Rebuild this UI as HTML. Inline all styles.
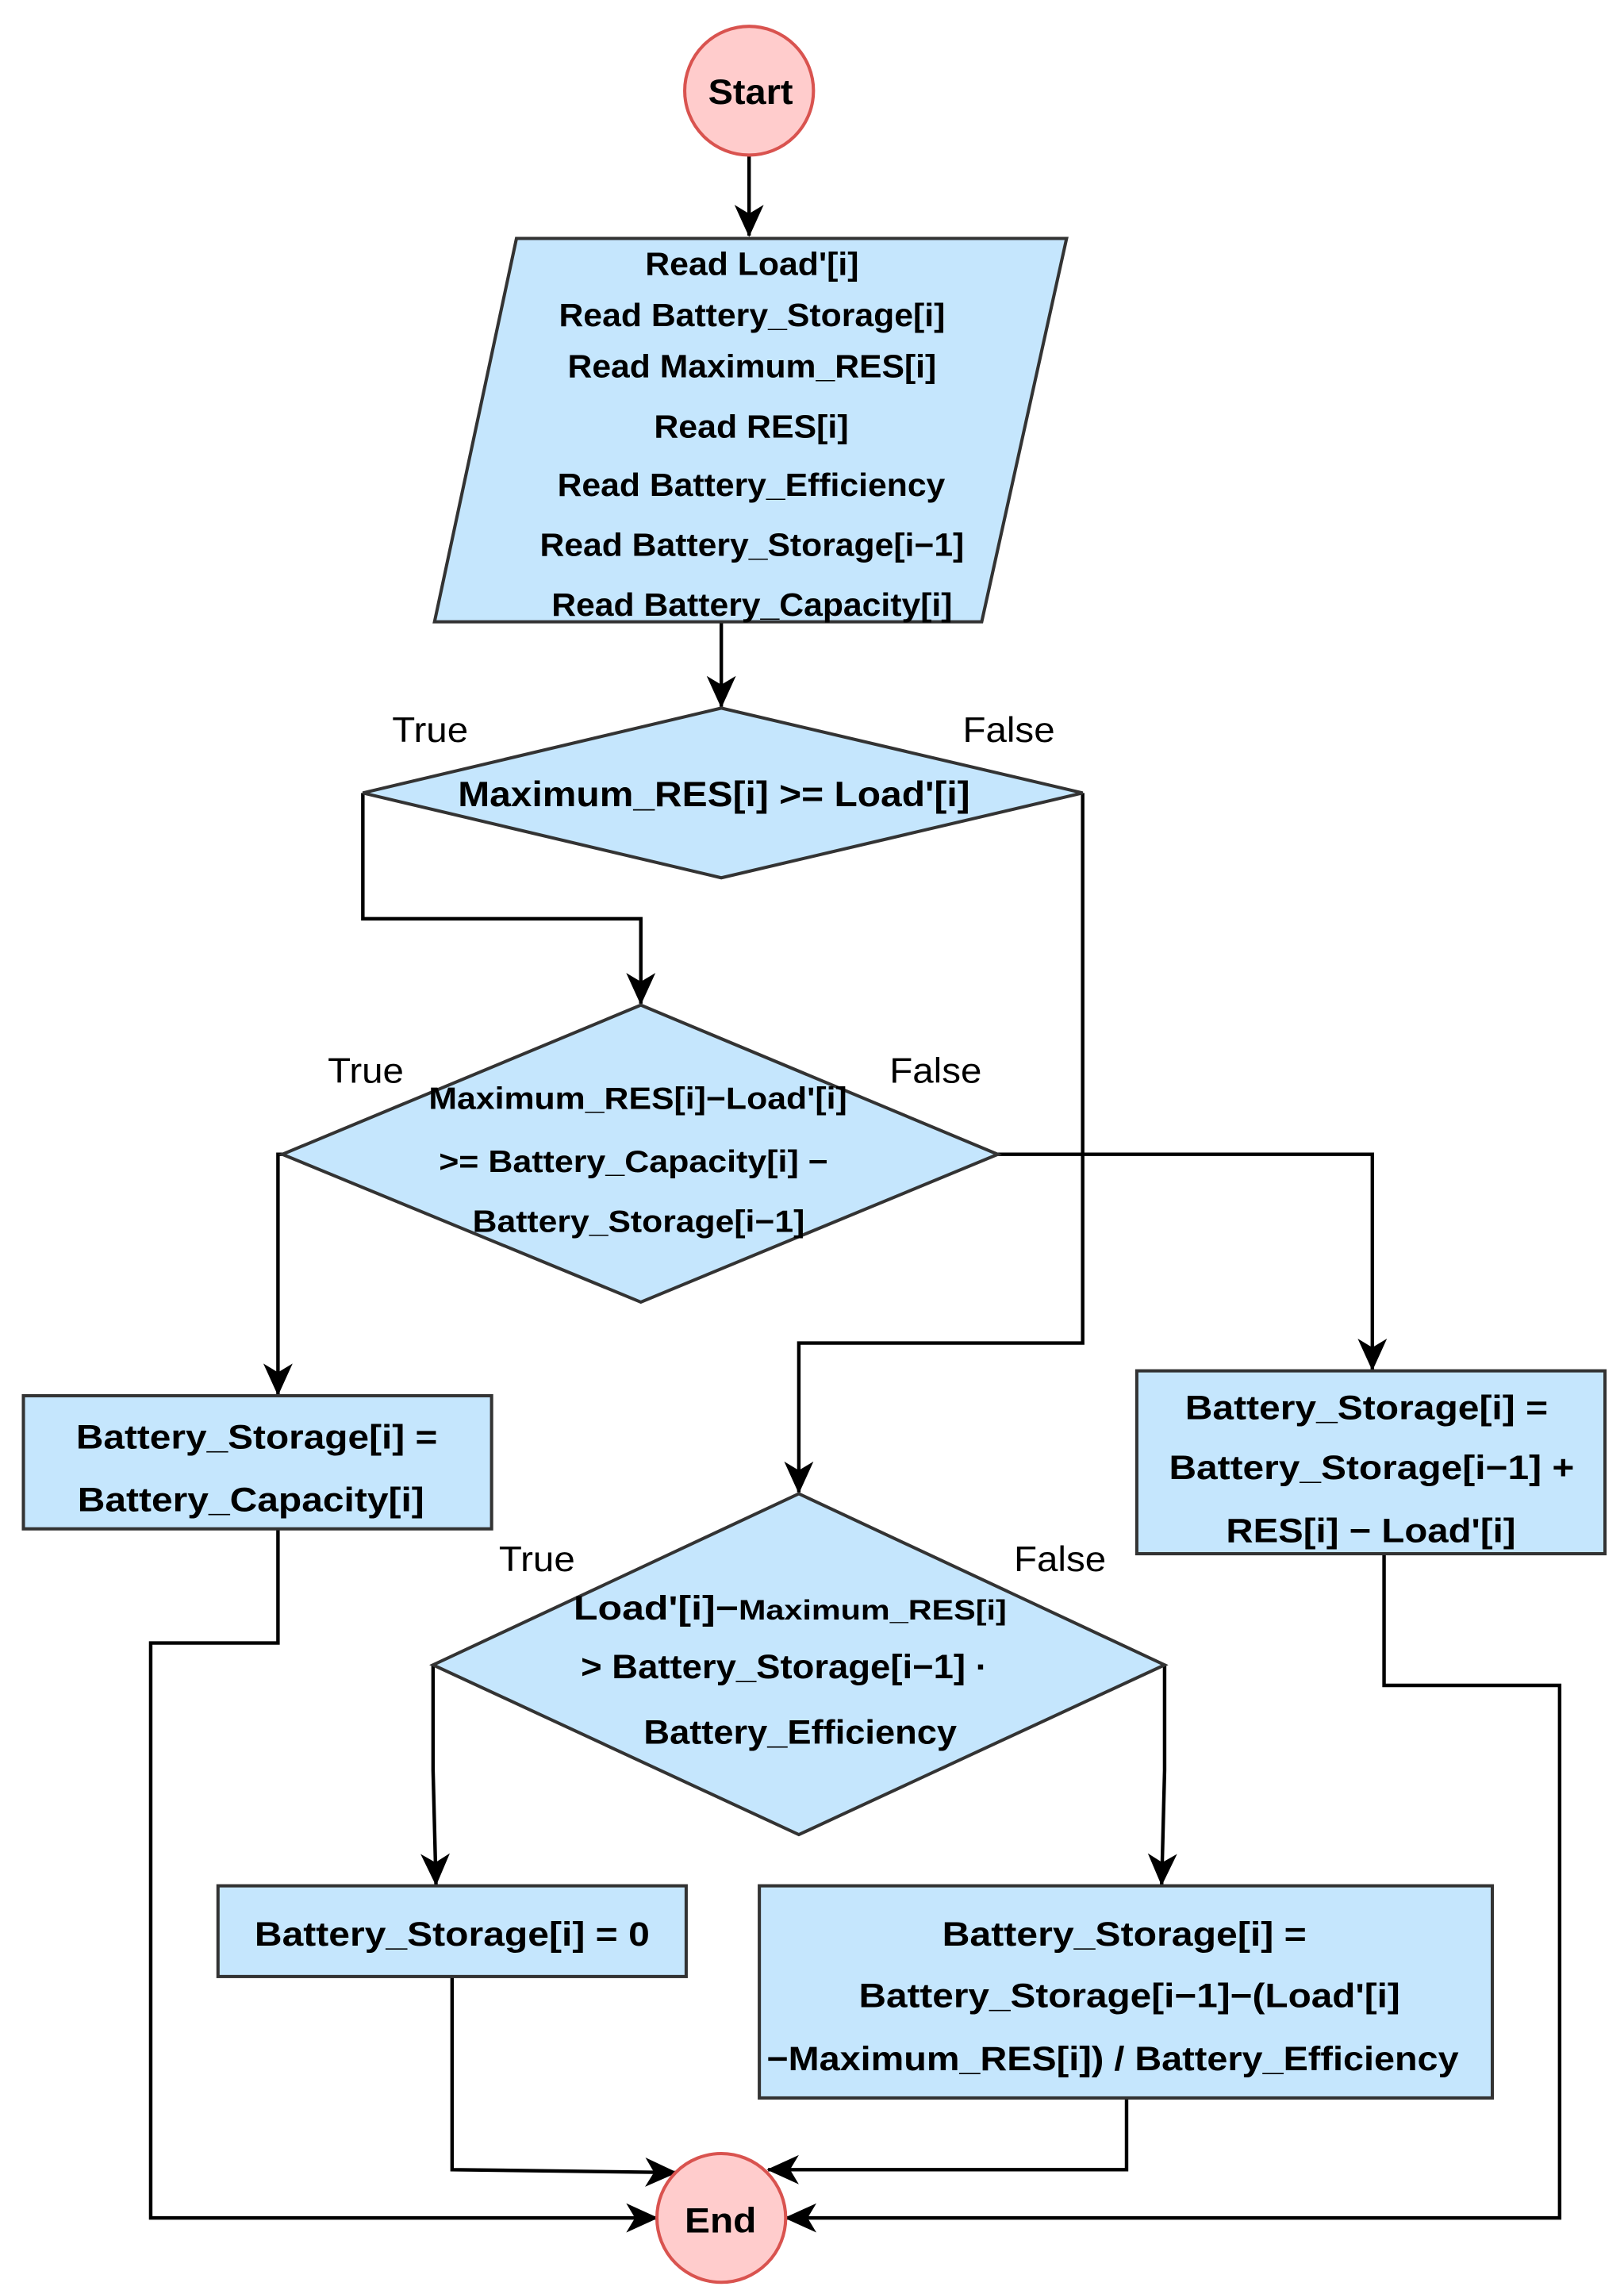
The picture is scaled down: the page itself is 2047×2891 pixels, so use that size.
<!DOCTYPE html>
<html><head><meta charset="utf-8"><style>
html,body{margin:0;padding:0;background:#fff;}
svg{display:block;}
text{font-family:"Liberation Sans",Arial,sans-serif;fill:#000;}
.b{font-weight:bold;}
</style></head><body>
<svg width="2047" height="2891" viewBox="0 0 1110 1568" preserveAspectRatio="none" xmlns="http://www.w3.org/2000/svg">
<defs>
<marker id="a" markerWidth="22" markerHeight="22" refX="21" refY="11" orient="auto" markerUnits="userSpaceOnUse" viewBox="0 0 22 22">
<path d="M0,1 L22,11 L0,21 L6,11 Z" fill="#000"/>
</marker>
</defs>
<g stroke="#000" stroke-width="2.4" fill="none">
<path d="M512,106 V161" marker-end="url(#a)"/>
<path d="M493,425 V483" marker-end="url(#a)"/>
<path d="M248,542 V628 H438 V686" marker-end="url(#a)"/>
<path d="M193,789 H190 V953" marker-end="url(#a)"/>
<path d="M682,789 H938 V936" marker-end="url(#a)"/>
<path d="M740,542 V918 H546 V1020" marker-end="url(#a)"/>
<path d="M296,1138 V1210 L298,1288" marker-end="url(#a)"/>
<path d="M796,1138 V1210 L794,1288" marker-end="url(#a)"/>
<path d="M190,1045 V1123 H103 V1516 H449" marker-end="url(#a)"/>
<path d="M309,1351 V1483 L462,1485" marker-end="url(#a)"/>
<path d="M770,1434 V1483 H525" marker-end="url(#a)"/>
<path d="M946,1062 V1152 H1066 V1516 H537" marker-end="url(#a)"/>
</g>
<g stroke="#333" stroke-width="2.2">
<circle cx="512" cy="62" r="44" fill="#ffcccc" stroke="#d9534f"/>
<circle cx="493" cy="1516" r="44" fill="#ffcccc" stroke="#d9534f"/>
<polygon points="353,163 729,163 671,425 297,425" fill="#c5e6fd"/>
<polygon points="493,484 740,542 493,600 248,542" fill="#c5e6fd"/>
<polygon points="438,687 682,789 438,890 193,789" fill="#c5e6fd"/>
<polygon points="546,1021 796,1138 546,1254 296,1138" fill="#c5e6fd"/>
<rect x="16" y="954" width="320" height="91" fill="#c5e6fd"/>
<rect x="777" y="937" width="320" height="125" fill="#c5e6fd"/>
<rect x="149" y="1289" width="320" height="62" fill="#c5e6fd"/>
<rect x="519" y="1289" width="501" height="145" fill="#c5e6fd"/>
</g>
<g class="b" font-size="22" lengthAdjust="spacingAndGlyphs">
<text x="484" y="71" font-size="24" textLength="58" lengthAdjust="spacingAndGlyphs">Start</text>
<text x="468" y="1526" font-size="24" textLength="49" lengthAdjust="spacingAndGlyphs">End</text>
<text x="441" y="188" textLength="146" lengthAdjust="spacingAndGlyphs">Read Load'[i]</text>
<text x="382" y="223" textLength="264" lengthAdjust="spacingAndGlyphs">Read Battery_Storage[i]</text>
<text x="388" y="258" textLength="252" lengthAdjust="spacingAndGlyphs">Read Maximum_RES[i]</text>
<text x="447" y="299" textLength="133" lengthAdjust="spacingAndGlyphs">Read RES[i]</text>
<text x="381" y="339" textLength="265" lengthAdjust="spacingAndGlyphs">Read Battery_Efficiency</text>
<text x="369" y="380" textLength="290" lengthAdjust="spacingAndGlyphs">Read Battery_Storage[i−1]</text>
<text x="377" y="421" textLength="274" lengthAdjust="spacingAndGlyphs">Read Battery_Capacity[i]</text>
<text x="313" y="551" font-size="24" textLength="350" lengthAdjust="spacingAndGlyphs">Maximum_RES[i] &gt;= Load'[i]</text>
<text x="293" y="758" font-size="21" textLength="286" lengthAdjust="spacingAndGlyphs">Maximum_RES[i]−Load'[i]</text>
<text x="300" y="801" font-size="21" textLength="266" lengthAdjust="spacingAndGlyphs">&gt;= Battery_Capacity[i] −</text>
<text x="323" y="842" font-size="21" textLength="227" lengthAdjust="spacingAndGlyphs">Battery_Storage[i−1]</text>
<text x="392" y="1107" font-size="23" textLength="296" lengthAdjust="spacingAndGlyphs">Load'[i]−<tspan font-size="19">Maximum_RES[i]</tspan></text>
<text x="397" y="1147" font-size="23" textLength="278" lengthAdjust="spacingAndGlyphs">&gt; Battery_Storage[i−1] ·</text>
<text x="440" y="1192" font-size="23" textLength="214" lengthAdjust="spacingAndGlyphs">Battery_Efficiency</text>
<text x="52" y="990" font-size="23" textLength="247" lengthAdjust="spacingAndGlyphs">Battery_Storage[i] =</text>
<text x="53" y="1033" font-size="23" textLength="237" lengthAdjust="spacingAndGlyphs">Battery_Capacity[i]</text>
<text x="810" y="970" font-size="23" textLength="248" lengthAdjust="spacingAndGlyphs">Battery_Storage[i] =</text>
<text x="799" y="1011" font-size="23" textLength="277" lengthAdjust="spacingAndGlyphs">Battery_Storage[i−1] +</text>
<text x="838" y="1054" font-size="23" textLength="198" lengthAdjust="spacingAndGlyphs">RES[i] − Load'[i]</text>
<text x="174" y="1330" font-size="23" textLength="270" lengthAdjust="spacingAndGlyphs">Battery_Storage[i] = 0</text>
<text x="644" y="1330" font-size="23" textLength="249" lengthAdjust="spacingAndGlyphs">Battery_Storage[i] =</text>
<text x="587" y="1372" font-size="23" textLength="370" lengthAdjust="spacingAndGlyphs">Battery_Storage[i−1]−(Load'[i]</text>
<text x="524" y="1415" font-size="23" textLength="473" lengthAdjust="spacingAndGlyphs">−Maximum_RES[i]) / Battery_Efficiency</text>
</g>
<g font-size="24">
<text x="268" y="507" textLength="52" lengthAdjust="spacingAndGlyphs">True</text>
<text x="658" y="507" textLength="63" lengthAdjust="spacingAndGlyphs">False</text>
<text x="224" y="740" textLength="52" lengthAdjust="spacingAndGlyphs">True</text>
<text x="608" y="740" textLength="63" lengthAdjust="spacingAndGlyphs">False</text>
<text x="341" y="1074" textLength="52" lengthAdjust="spacingAndGlyphs">True</text>
<text x="693" y="1074" textLength="63" lengthAdjust="spacingAndGlyphs">False</text>
</g>
</svg>
</body></html>
